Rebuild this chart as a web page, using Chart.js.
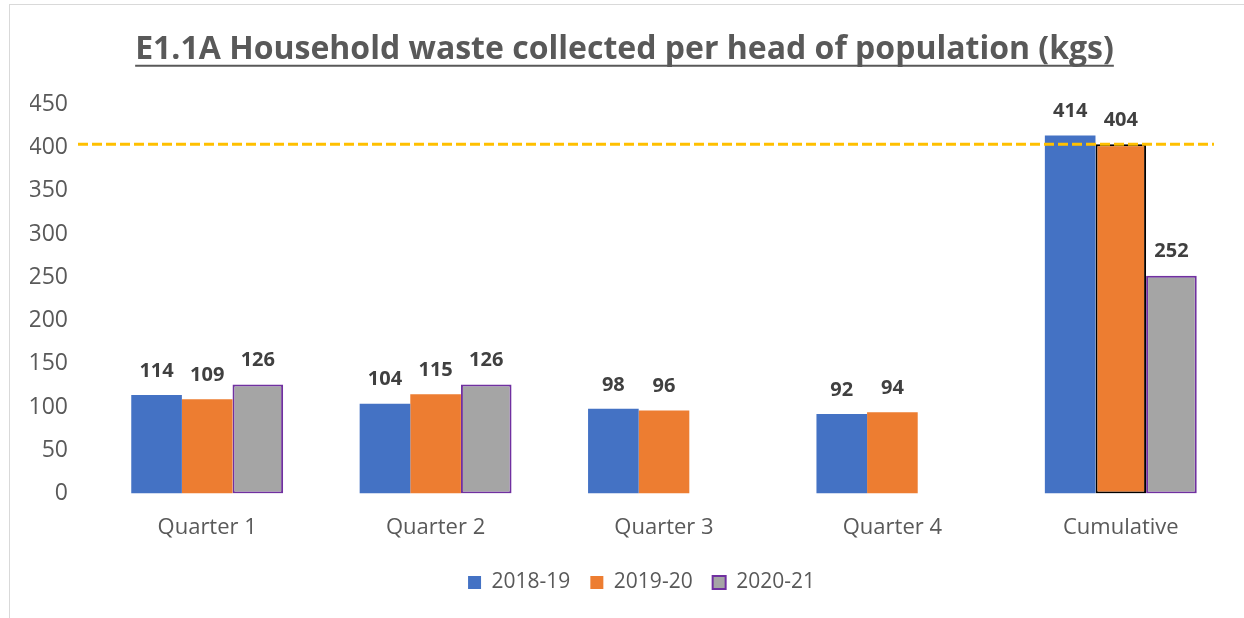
<!DOCTYPE html>
<html>
<head>
<meta charset="utf-8">
<script src="https://cdn.jsdelivr.net/npm/chart.js"></script>
<style>
  html, body { margin: 0; padding: 0; background: #fff; }
  #wrap { position: relative; width: 1244px; height: 618px; overflow: hidden; }
  #frame { position: absolute; left: 9px; top: 4px; width: 1300px; height: 700px; border: 1px solid #d9d9d9; }
  #grafico { position: absolute; left: 0; top: 0; }
</style>
</head>
<body>
<div id="wrap">
  <div id="frame"></div>
  <canvas id="grafico" width="1244" height="618"></canvas>
</div>
<script>
// datos
const categorias = ["Quarter 1", "Quarter 2", "Quarter 3", "Quarter 4", "Cumulative"];
const serie1819 = [114, 104, 98, 92, 414];
const serie1920 = [109, 115, 96, 94, 404];
const serie2021 = [126, 126, null, null, 252];
const lineaObjetivo = 404;
const ticksY = [0, 50, 100, 150, 200, 250, 300, 350, 400, 450];

const fuente = "'Open Sans', sans-serif";
const tamTitulo = 32;
const padTitulo = 31;

// etiquetas encima de cada barra
const etiquetas = {
  id: "etiquetas",
  afterDatasetsDraw(chart) {
    const ctx = chart.ctx;
    ctx.save();
    ctx.font = "bold 20px " + fuente;
    ctx.fillStyle = "#404040";
    ctx.textAlign = "center";
    ctx.textBaseline = "middle";
    chart.data.datasets.forEach((ds, i) => {
      const meta = chart.getDatasetMeta(i);
      meta.data.forEach((bar, j) => {
        const v = ds.data[j];
        if (v === null || v === undefined) return;
        ctx.fillText(String(v), bar.x, bar.y - 24);
      });
    });
    ctx.restore();
  }
};

// linea discontinua, subrayado del titulo y pequeños ajustes de posicion
const extras = {
  id: "extras",
  afterLayout(chart) {
    // el titulo queda algo a la izquierda y la leyenda algo a la derecha, como en Excel
    chart.titleBlock.left -= 8;
    chart.titleBlock.right -= 8;
    chart.legend.left += 9;
    chart.legend.right += 9;
    chart.legend.top -= 10;
    chart.legend.bottom -= 10;
  },
  afterDatasetsDraw(chart) {
    const ctx = chart.ctx;
    const area = chart.chartArea;
    const y = chart.scales.y.getPixelForValue(lineaObjetivo);
    ctx.save();
    ctx.strokeStyle = "#FFC000";
    ctx.lineWidth = 3;
    ctx.setLineDash([10, 4]);
    ctx.beginPath();
    ctx.moveTo(area.left - 15, y);
    ctx.lineTo(area.right - 21, y);
    ctx.stroke();
    ctx.restore();
  },
  afterDraw(chart) {
    const t = chart.titleBlock;
    const ctx = chart.ctx;
    ctx.save();
    ctx.font = "bold " + tamTitulo + "px " + fuente;
    const w = ctx.measureText(chart.options.plugins.title.text).width;
    const cx = (t.left + t.right) / 2;
    const y = t.top + padTitulo + tamTitulo * 0.6 + tamTitulo * 0.36 + 4;
    ctx.strokeStyle = "#595959";
    ctx.lineWidth = 2;
    ctx.beginPath();
    ctx.moveTo(cx - w / 2, y);
    ctx.lineTo(cx + w / 2, y);
    ctx.stroke();
    ctx.restore();
  }
};

const data = {
  labels: categorias,
  datasets: [
    {
      label: "2018-19",
      data: serie1819,
      backgroundColor: "#4472C4",
      borderWidth: 0
    },
    {
      label: "2019-20",
      data: serie1920,
      backgroundColor: "#ED7D31",
      borderColor: "#000000",
      borderWidth: (c) => (c.dataIndex === 4 ? 2 : 0)
    },
    {
      label: "2020-21",
      data: serie2021,
      backgroundColor: "#A5A5A5",
      borderColor: "#7030A0",
      borderWidth: 2
    }
  ]
};

new Chart(document.getElementById("grafico").getContext("2d"), {
  type: "bar",
  data: data,
  plugins: [etiquetas, extras],
  options: {
    responsive: false,
    animation: false,
    layout: { padding: { left: 30, right: 9, top: 0, bottom: 5 } },
    datasets: {
      bar: { categoryPercentage: 0.665, barPercentage: 1.0, borderSkipped: false }
    },
    scales: {
      x: {
        grid: { display: false, drawTicks: false },
        border: { display: false },
        ticks: { color: "#595959", font: { family: fuente, size: 22 }, padding: 21 }
      },
      y: {
        min: 0,
        max: 450,
        afterBuildTicks: (ax) => { ax.ticks = ticksY.map(v => ({ value: v })); },
        afterFit: (ax) => { ax.width = 63; },
        grid: { display: false, drawTicks: false },
        border: { display: false },
        ticks: { color: "#595959", font: { family: fuente, size: 23 }, padding: 25 }
      }
    },
    plugins: {
      title: {
        display: true,
        text: "E1.1A Household waste collected per head of population (kgs)",
        color: "#595959",
        font: { family: fuente, size: tamTitulo, weight: "bold" },
        padding: { top: padTitulo, bottom: 35 }
      },
      legend: {
        position: "bottom",
        labels: {
          color: "#595959",
          font: { family: fuente, size: 21 },
          boxWidth: 13,
          boxHeight: 13,
          padding: 20
        }
      },
      tooltip: { enabled: false }
    }
  }
});
</script>
</body>
</html>
